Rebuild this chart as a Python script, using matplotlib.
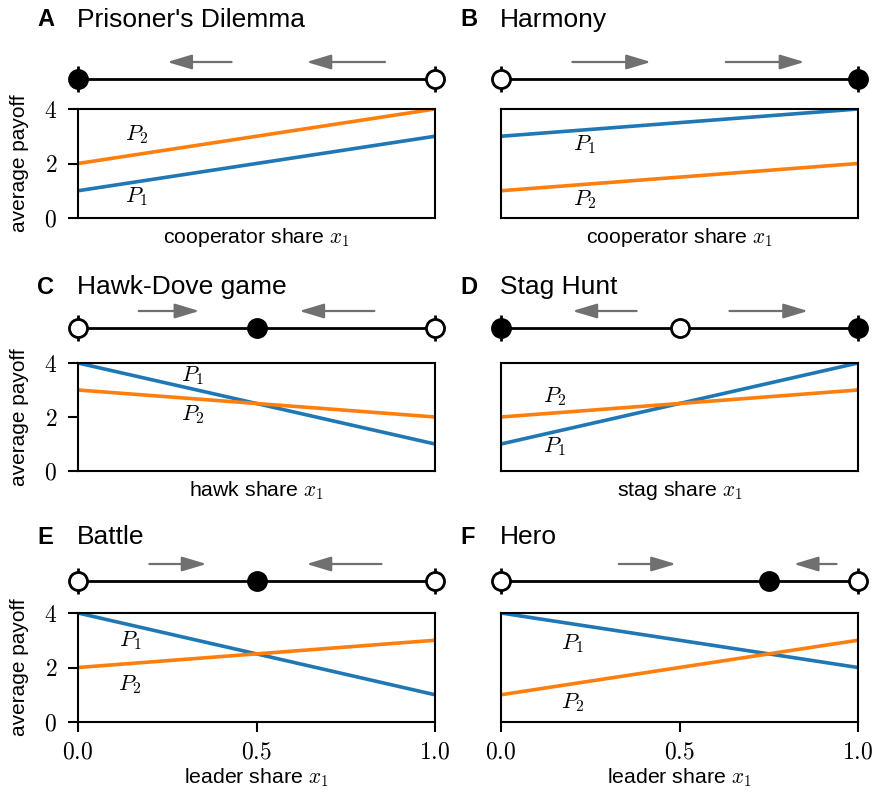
import matplotlib.pyplot as plt

plt.rcParams['font.family'] = ['Liberation Sans', 'DejaVu Sans']
plt.rcParams['mathtext.fontset'] = 'cm'

# Spieldaten: Auszahlungen an x1=0 und x1=1
letters = ['A', 'B', 'C', 'D', 'E', 'F']
titles = ["Prisoner's Dilemma", 'Harmony', 'Hawk-Dove game', 'Stag Hunt', 'Battle', 'Hero']
xlabels = ['cooperator share', 'cooperator share', 'hawk share', 'stag share',
           'leader share', 'leader share']
p1_values = [(1, 3), (3, 4), (4, 1), (1, 4), (4, 1), (4, 2)]
p2_values = [(2, 4), (1, 2), (3, 2), (2, 3), (2, 3), (1, 3)]

# Fixpunkte: (Position, stabil?)
fixed_points = [
    [(0.0, True), (1.0, False)],
    [(0.0, False), (1.0, True)],
    [(0.0, False), (0.5, True), (1.0, False)],
    [(0.0, True), (0.5, False), (1.0, True)],
    [(0.0, False), (0.5, True), (1.0, False)],
    [(0.0, False), (0.75, True), (1.0, False)],
]
# Pfeile: (Start, Ende)
arrows = [
    [(0.43, 0.25), (0.86, 0.64)],
    [(0.20, 0.42), (0.63, 0.85)],
    [(0.17, 0.34), (0.83, 0.62)],
    [(0.38, 0.20), (0.64, 0.86)],
    [(0.20, 0.36), (0.85, 0.64)],
    [(0.33, 0.49), (0.94, 0.82)],
]
# Position der P1/P2-Beschriftung
p1_label_pos = [(0.165, 0.77), (0.235, 2.68), (0.32, 3.55), (0.15, 0.89), (0.146, 3.0), (0.2, 2.86)]
p2_label_pos = [(0.165, 3.05), (0.235, 0.66), (0.32, 2.1), (0.15, 2.74), (0.146, 1.39), (0.2, 0.7)]

W, H = 875, 794
fig = plt.figure(figsize=(W / 100, H / 100), dpi=100)

col_left = [78, 501]
ax_width = 357
rows_payoff = [(109, 218), (363, 471), (613, 722)]
rows_line = [79, 328, 581]
rows_title = [20, 287, 537]

blue = '#1f77b4'
orange = '#ff7f0e'
grey = '#707070'

for i in range(6):
    row, col = divmod(i, 2)
    x0 = col_left[col]
    top, bottom = rows_payoff[row]

    # Auszahlungsachse
    ax = fig.add_axes([x0 / W, 1 - bottom / H, ax_width / W, (bottom - top) / H])
    ax.plot([0, 1], p1_values[i], color=blue, lw=2.6, solid_capstyle='butt')
    ax.plot([0, 1], p2_values[i], color=orange, lw=2.6, solid_capstyle='butt')
    ax.set_xlim(0, 1)
    ax.set_ylim(0, 4)
    for s in ax.spines.values():
        s.set_linewidth(1.5)
    ax.text(*p1_label_pos[i], '$P_1$', fontsize=16, ha='center', va='center')
    ax.text(*p2_label_pos[i], '$P_2$', fontsize=16, ha='center', va='center')

    if col == 0:
        ax.set_yticks([0, 2, 4])
        ax.set_yticklabels(['$0$', '$2$', '$4$'])
        ax.set_ylabel('average payoff', fontsize=15, labelpad=11)
    else:
        ax.set_yticks([])
    if row == 2:
        ax.set_xticks([0, 0.5, 1.0])
        ax.set_xticklabels(['$0.0$', '$0.5$', '$1.0$'])
    else:
        ax.set_xticks([])
    ax.tick_params(length=7, width=1.5, labelsize=17, pad=8)
    ax.tick_params(axis='x', pad=7)
    ax.set_xlabel(xlabels[i] + r' $x_1$', fontsize=15.3,
                  labelpad=2 if row == 2 else 6)

    # Phasenlinie
    yc = rows_line[row]
    lax = fig.add_axes([x0 / W, 1 - (yc + 25) / H, ax_width / W, 50 / H])
    lax.set_xlim(0, 1)
    lax.set_ylim(-1, 1)
    lax.axis('off')
    lax.plot([0, 1], [0, 0], color='black', lw=2, zorder=1)
    lax.plot([0, 1], [0, 0], ls='none', marker='|', markersize=19, mew=2,
             color='black', zorder=2, clip_on=False)
    for pos, stable in fixed_points[i]:
        lax.plot(pos, 0, 'o', markersize=13, mew=2, mec='black',
                 mfc='black' if stable else 'white', zorder=3, clip_on=False)
    for start, end in arrows[i]:
        lax.annotate('', xy=(end, 0.68), xytext=(start, 0.68),
                     arrowprops=dict(arrowstyle='-|>,head_length=1.5,head_width=0.45',
                                     color=grey, lw=1.6, shrinkA=0, shrinkB=0))

    # Titel
    yt = 1 - rows_title[row] / H
    fig.text((x0 - 41) / W, yt, letters[i], fontsize=17, fontweight='bold', va='center')
    fig.text((x0 - 1) / W, yt, titles[i], fontsize=19, va='center')

fig.savefig('out.png', dpi=100)
